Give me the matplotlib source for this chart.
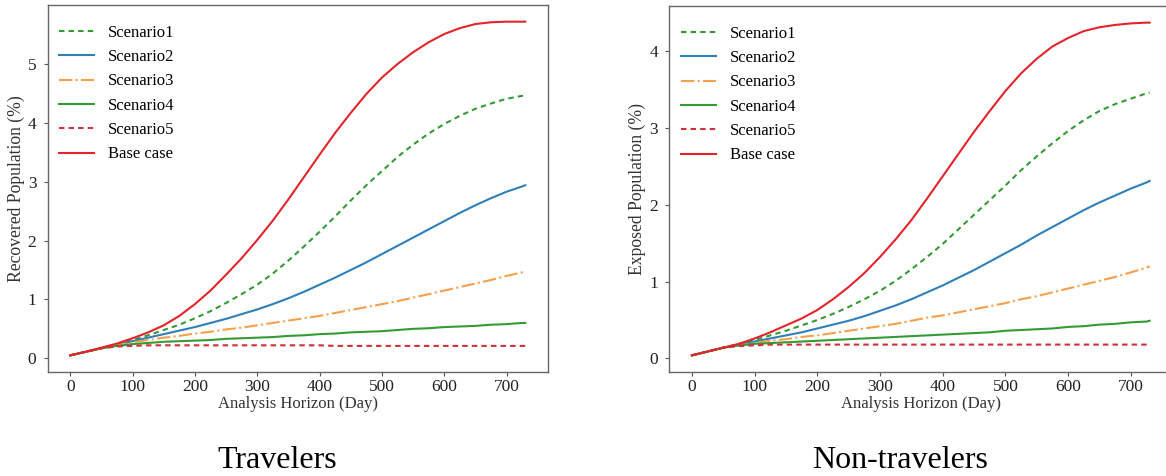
import matplotlib
matplotlib.use("Agg")
import matplotlib.pyplot as plt

plt.rcParams['font.family'] = ['Liberation Serif', 'DejaVu Serif']

days = [0, 25, 50, 75, 100, 125, 150, 175, 200, 225, 250, 275, 300, 325, 350,
        375, 400, 425, 450, 475, 500, 525, 550, 575, 600, 625, 650, 675, 700, 725, 730]

series_names = ["Scenario1", "Scenario2", "Scenario3", "Scenario4", "Scenario5", "Base case"]

# Travelers: Recovered Population (%)
trav_s1 = [0.05, 0.11, 0.17, 0.24, 0.31, 0.39, 0.48, 0.57, 0.68, 0.80, 0.94, 1.09, 1.25, 1.44, 1.66,
           1.90, 2.15, 2.41, 2.68, 2.94, 3.18, 3.42, 3.63, 3.82, 3.98, 4.12, 4.24, 4.33, 4.41, 4.46, 4.47]
trav_s2 = [0.05, 0.11, 0.17, 0.23, 0.29, 0.35, 0.41, 0.47, 0.53, 0.60, 0.67, 0.75, 0.83, 0.92, 1.02,
           1.13, 1.25, 1.37, 1.50, 1.63, 1.77, 1.91, 2.05, 2.19, 2.33, 2.47, 2.60, 2.72, 2.83, 2.92, 2.94]
trav_s3 = [0.05, 0.11, 0.17, 0.22, 0.27, 0.31, 0.35, 0.38, 0.42, 0.45, 0.49, 0.52, 0.56, 0.60, 0.64,
           0.68, 0.72, 0.77, 0.82, 0.87, 0.92, 0.97, 1.03, 1.09, 1.15, 1.21, 1.27, 1.33, 1.40, 1.46, 1.48]
trav_s4 = [0.05, 0.11, 0.17, 0.21, 0.24, 0.26, 0.28, 0.29, 0.30, 0.31, 0.33, 0.34, 0.35, 0.36, 0.38,
           0.39, 0.41, 0.42, 0.44, 0.45, 0.46, 0.48, 0.50, 0.51, 0.53, 0.54, 0.55, 0.57, 0.58, 0.60, 0.60]
trav_s5 = [0.05, 0.11, 0.17, 0.20, 0.21, 0.22, 0.22, 0.22, 0.22, 0.22, 0.22, 0.22, 0.22, 0.22, 0.22,
           0.22, 0.22, 0.21, 0.21, 0.21, 0.21, 0.21, 0.21, 0.21, 0.21, 0.21, 0.21, 0.21, 0.21, 0.21, 0.21]
trav_base = [0.05, 0.11, 0.18, 0.25, 0.34, 0.44, 0.56, 0.72, 0.92, 1.15, 1.42, 1.70, 2.01, 2.34, 2.70,
             3.08, 3.46, 3.83, 4.17, 4.49, 4.77, 5.00, 5.20, 5.37, 5.51, 5.61, 5.68, 5.71, 5.72, 5.72, 5.72]

# Non-travelers: Exposed Population (%)
non_s1 = [0.04, 0.09, 0.14, 0.19, 0.24, 0.30, 0.36, 0.43, 0.50, 0.58, 0.67, 0.77, 0.88, 1.01, 1.16,
          1.32, 1.49, 1.68, 1.87, 2.06, 2.25, 2.45, 2.63, 2.80, 2.96, 3.10, 3.22, 3.31, 3.38, 3.45, 3.46]
non_s2 = [0.04, 0.09, 0.14, 0.18, 0.22, 0.26, 0.30, 0.34, 0.39, 0.44, 0.49, 0.55, 0.62, 0.69, 0.77,
          0.86, 0.95, 1.05, 1.15, 1.26, 1.37, 1.48, 1.60, 1.71, 1.82, 1.93, 2.03, 2.12, 2.21, 2.29, 2.31]
non_s3 = [0.04, 0.09, 0.14, 0.17, 0.20, 0.23, 0.25, 0.28, 0.30, 0.33, 0.36, 0.39, 0.42, 0.45, 0.49,
          0.53, 0.56, 0.60, 0.64, 0.68, 0.72, 0.77, 0.81, 0.86, 0.91, 0.96, 1.01, 1.06, 1.12, 1.18, 1.20]
non_s4 = [0.04, 0.09, 0.14, 0.17, 0.19, 0.20, 0.21, 0.22, 0.23, 0.24, 0.25, 0.26, 0.27, 0.28, 0.29,
          0.30, 0.31, 0.32, 0.33, 0.34, 0.36, 0.37, 0.38, 0.39, 0.41, 0.42, 0.44, 0.45, 0.47, 0.48, 0.49]
non_s5 = [0.04, 0.09, 0.14, 0.16, 0.17, 0.18, 0.18, 0.18, 0.18, 0.18, 0.18, 0.18, 0.18, 0.18, 0.18,
          0.18, 0.18, 0.18, 0.18, 0.18, 0.18, 0.18, 0.18, 0.18, 0.18, 0.18, 0.18, 0.18, 0.18, 0.18, 0.18]
non_base = [0.04, 0.09, 0.14, 0.19, 0.26, 0.34, 0.43, 0.52, 0.63, 0.77, 0.93, 1.11, 1.32, 1.55, 1.80,
            2.08, 2.37, 2.66, 2.95, 3.22, 3.48, 3.71, 3.90, 4.06, 4.17, 4.26, 4.31, 4.34, 4.36, 4.37, 4.37]

xticks = [0, 100, 200, 300, 400, 500, 600, 700]
trav_yticks = [0, 1, 2, 3, 4, 5]
non_yticks = [0, 1, 2, 3, 4]

styles = [
    dict(color='#349b34', linestyle=(0, (2.6, 2.0))),
    dict(color='#2f7fb8', linestyle='-'),
    dict(color='#f5a04a', linestyle='-.'),
    dict(color='#349b34', linestyle='-'),
    dict(color='#d0303a', linestyle=(0, (2.6, 2.0))),
    dict(color='#e3242b', linestyle='-'),
]

W, H = 1166, 476
fig = plt.figure(figsize=(W / 100, H / 100), dpi=100)
ax1 = fig.add_axes([47.5 / W, 1 - 372 / H, 500.5 / W, 367 / H])
ax2 = fig.add_axes([669 / W, 1 - 372 / H, 503.5 / W, 366 / H])

panels = [
    (ax1, [trav_s1, trav_s2, trav_s3, trav_s4, trav_s5, trav_base], "Recovered Population (%)", trav_yticks),
    (ax2, [non_s1, non_s2, non_s3, non_s4, non_s5, non_base], "Exposed Population (%)", non_yticks),
]

for ax, data, ylabel, yticks in panels:
    for name, vals, st in zip(series_names, data, styles):
        ax.plot(days, vals, label=name, linewidth=1.5, **st)
    ax.set_xticks(xticks)
    ax.set_yticks(yticks)
    ax.tick_params(axis='both', labelsize=12.5, length=3, width=0.8, color='#555555', pad=2,
                   labelcolor='#222222')
    ax.tick_params(axis='y', pad=5)
    ax.set_xlabel("Analysis Horizon (Day)", fontsize=12, labelpad=1, color='#333333')
    ax.set_ylabel(ylabel, fontsize=12.7, labelpad=2, color='#333333')
    for sp in ax.spines.values():
        sp.set_color('#666666')
        sp.set_linewidth(1.0)
    ax.legend(loc='upper left', bbox_to_anchor=(0.0, 0.978), frameon=False, fontsize=12,
              handlelength=2.1, handletextpad=0.85, labelspacing=0.5, borderaxespad=0.3)

fig.text(277.5 / W, 1 - 460 / H, "Travelers", fontsize=23, ha='center', va='center')
fig.text(900 / W, 1 - 460 / H, "Non-travelers", fontsize=23, ha='center', va='center')

fig.savefig("out.png", dpi=100)
